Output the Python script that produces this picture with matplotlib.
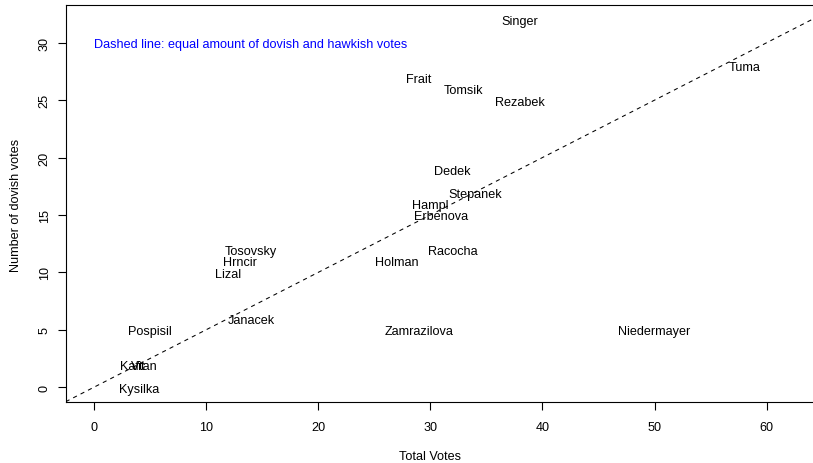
import numpy as np
import matplotlib
matplotlib.use("Agg")
import matplotlib.pyplot as plt

plt.rcParams['font.family'] = ['Liberation Sans', 'DejaVu Sans']

# board members: total votes vs dovish votes
names = ["Singer", "Tuma", "Frait", "Tomsik", "Rezabek", "Dedek", "Stepanek",
         "Hampl", "Erbenova", "Racocha", "Holman", "Tosovsky", "Hrncir",
         "Lizal", "Janacek", "Pospisil", "Zamrazilova", "Niedermayer",
         "Kaftan", "Vit", "Kysilka"]
total_votes = [38, 58, 29, 33, 38, 32, 34, 30, 31, 32, 27, 14, 13, 12, 14, 5,
               29, 50, 4, 4, 4]
dovish_votes = [32, 28, 27, 26, 25, 19, 17, 16, 15, 12, 11, 12, 11, 10, 6, 5,
                5, 5, 2, 2, 0]
x_ticks = [0, 10, 20, 30, 40, 50, 60]
y_ticks = [0, 5, 10, 15, 20, 25, 30]

W, H = 813, 464
fig = plt.figure(figsize=(W / 100, H / 100), dpi=100)
left, right, top, bottom = 66, 817, 6, 403
ax = fig.add_axes([left / W, (H - bottom) / H, (right - left) / W, (bottom - top) / H])

fs = 9.1
for n, xv, yv in zip(names, total_votes, dovish_votes):
    ax.text(xv, yv, n, ha='center', va='center_baseline', fontsize=fs, color='black')

# equal amount of dovish and hawkish votes: dovish = total / 2
xs = np.array([-10, 100])
ax.plot(xs, xs / 2, color='black', lw=0.75, linestyle=(0, (4, 4)))

ax.text(0, 30, "Dashed line: equal amount of dovish and hawkish votes",
        ha='left', va='center_baseline', fontsize=fs, color='blue')

xmin, xmax = min(total_votes + [0]), max(total_votes + [62])
ymin, ymax = min(dovish_votes), max(dovish_votes)
ax.set_xlim(xmin - 0.04 * (xmax - xmin), xmax + 0.04 * (xmax - xmin))
ax.set_ylim(ymin - 0.04 * (ymax - ymin), ymax + 0.04 * (ymax - ymin))

ax.set_xticks(x_ticks)
ax.set_yticks(y_ticks)
ax.set_yticklabels([str(t) for t in y_ticks], rotation=90, va='center')
ax.tick_params(direction='out', length=6, width=0.8, labelsize=fs)
ax.tick_params(axis='x', pad=8)
ax.tick_params(axis='y', pad=5)
for s in ax.spines.values():
    s.set_linewidth(0.8)

fig.text(430 / W, 1 - 457 / H, "Total Votes", ha='center', va='center', fontsize=fs)
fig.text(16 / W, 1 - 205 / H, "Number of dovish votes", ha='center', va='center',
         rotation=90, fontsize=fs)

fig.savefig("out.png", dpi=100)
